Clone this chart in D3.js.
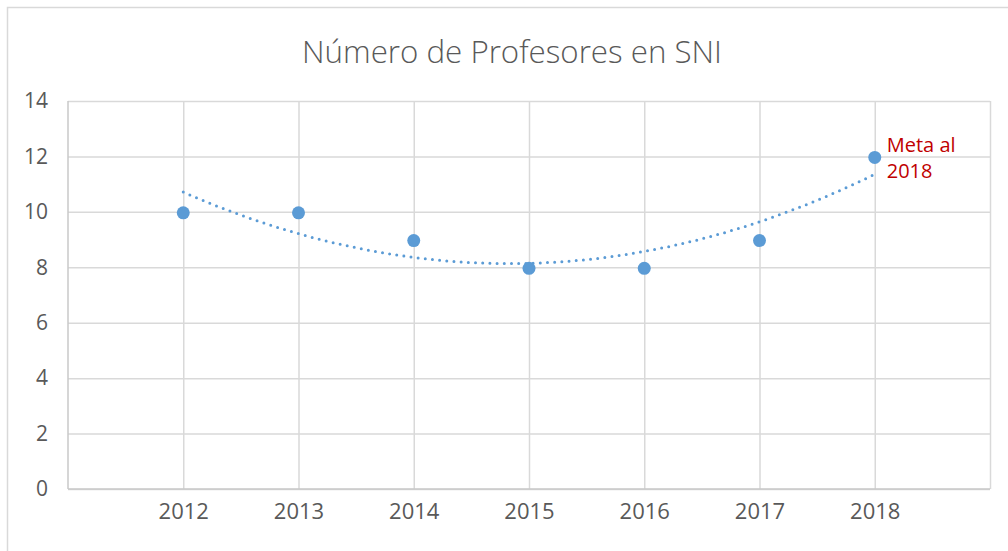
<!DOCTYPE html>
<html><head><meta charset="utf-8">
<script src="https://cdn.jsdelivr.net/npm/d3@7/dist/d3.min.js"></script>
<style>body{margin:0;background:#fff}</style>
</head><body>
<svg id="c" width="1008" height="551"></svg>
<script>
const years = [2012, 2013, 2014, 2015, 2016, 2017, 2018];
const values = [10, 10, 9, 8, 8, 9, 12];
const yTicks = [0, 2, 4, 6, 8, 10, 12, 14];
const title = "Número de Profesores en SNI";
const annotation = ["Meta al", "2018"];

const svg = d3.select("#c");
const m = {l: 68, r: 990, t: 101, b: 489};

// chart border
svg.append("rect").attr("x", 7.5).attr("y", 7.5).attr("width", 1010).attr("height", 560)
  .attr("fill", "#fff").attr("stroke", "#D9D9D9").attr("stroke-width", 1.5);

const x = d3.scaleLinear().domain([2011, 2019]).range([m.l, m.r]);
const y = d3.scaleLinear().domain([0, 14]).range([m.b, m.t]);

// horizontal gridlines
svg.append("g").attr("transform", `translate(${m.l},0)`)
  .call(d3.axisLeft(y).tickValues(yTicks).tickSize(-(m.r - m.l)).tickFormat(""))
  .call(g => g.select(".domain").remove())
  .call(g => g.selectAll("line").attr("stroke", "#D9D9D9").attr("stroke-width", 1.5));

// vertical gridlines
svg.append("g").attr("transform", `translate(0,${m.b})`)
  .call(d3.axisBottom(x).tickValues(years.concat([2019])).tickSize(-(m.b - m.t)).tickFormat(""))
  .call(g => g.select(".domain").remove())
  .call(g => g.selectAll("line").attr("stroke", "#D9D9D9").attr("stroke-width", 1.5));

// axis lines
svg.append("line").attr("x1", m.l).attr("x2", m.l).attr("y1", m.t).attr("y2", m.b)
  .attr("stroke", "#C8C8C8").attr("stroke-width", 1.5);
svg.append("line").attr("x1", m.l).attr("x2", m.r).attr("y1", m.b).attr("y2", m.b)
  .attr("stroke", "#C8C8C8").attr("stroke-width", 1.5);

// tick labels
svg.append("g").attr("transform", `translate(${m.l},0)`)
  .call(d3.axisLeft(y).tickValues(yTicks).tickSize(0).tickPadding(20))
  .call(g => g.select(".domain").remove())
  .call(g => g.selectAll("text").attr("font-family", "Open Sans").attr("font-size", 21).attr("fill", "#595959"));
svg.append("g").attr("transform", `translate(0,${m.b})`)
  .call(d3.axisBottom(x).tickValues(years).tickSize(0).tickPadding(14).tickFormat(d3.format("d")))
  .call(g => g.select(".domain").remove())
  .call(g => g.selectAll("text").attr("font-family", "Open Sans").attr("font-size", 22).attr("fill", "#595959"));

// polynomial (order 2) trendline fitted from the data by least squares
function polyFit(xs, ys) {
  let s = [0,0,0,0,0], t = [0,0,0];
  xs.forEach((xv, i) => {
    for (let k = 0; k < 5; k++) s[k] += Math.pow(xv, k);
    for (let k = 0; k < 3; k++) t[k] += Math.pow(xv, k) * ys[i];
  });
  const A = [[s[0], s[1], s[2], t[0]], [s[1], s[2], s[3], t[1]], [s[2], s[3], s[4], t[2]]];
  for (let i = 0; i < 3; i++) {
    for (let j = i + 1; j < 3; j++) {
      const f = A[j][i] / A[i][i];
      for (let k = i; k < 4; k++) A[j][k] -= f * A[i][k];
    }
  }
  const c = [0,0,0];
  for (let i = 2; i >= 0; i--) {
    let v = A[i][3];
    for (let k = i + 1; k < 3; k++) v -= A[i][k] * c[k];
    c[i] = v / A[i][i];
  }
  return c;
}
const xi = years.map((d, i) => i + 1);
const co = polyFit(xi, values);
const trend = d3.range(1, 7.001, 0.05).map(t => [years[0] + t - 1, co[0] + co[1] * t + co[2] * t * t]);
svg.append("path").datum(trend)
  .attr("d", d3.line().x(d => x(d[0])).y(d => y(d[1])))
  .attr("fill", "none").attr("stroke", "#5B9BD5").attr("stroke-width", 3)
  .attr("stroke-linecap", "round").attr("stroke-dasharray", "0 7.2");

// points
svg.append("g").selectAll("circle").data(values).join("circle")
  .attr("cx", (d, i) => x(years[i])).attr("cy", d => y(d) + 1).attr("r", 6.5)
  .attr("fill", "#5B9BD5");

// annotation
const last = years.length - 1;
svg.append("text").attr("x", x(years[last]) + 12).attr("y", y(values[last]) - 4)
  .attr("font-family", "Open Sans").attr("font-size", 20).attr("fill", "#C00000")
  .selectAll("tspan").data(annotation).join("tspan")
  .attr("x", x(years[last]) + 12).attr("dy", (d, i) => i ? 26 : 0).text(d => d);

// title
svg.append("text").attr("x", 512).attr("y", 63).attr("text-anchor", "middle")
  .attr("font-family", "Open Sans").attr("font-weight", 300).attr("font-size", 32)
  .attr("textLength", 420).attr("lengthAdjust", "spacingAndGlyphs")
  .attr("fill", "#595959").text(title);
</script>
</body></html>
